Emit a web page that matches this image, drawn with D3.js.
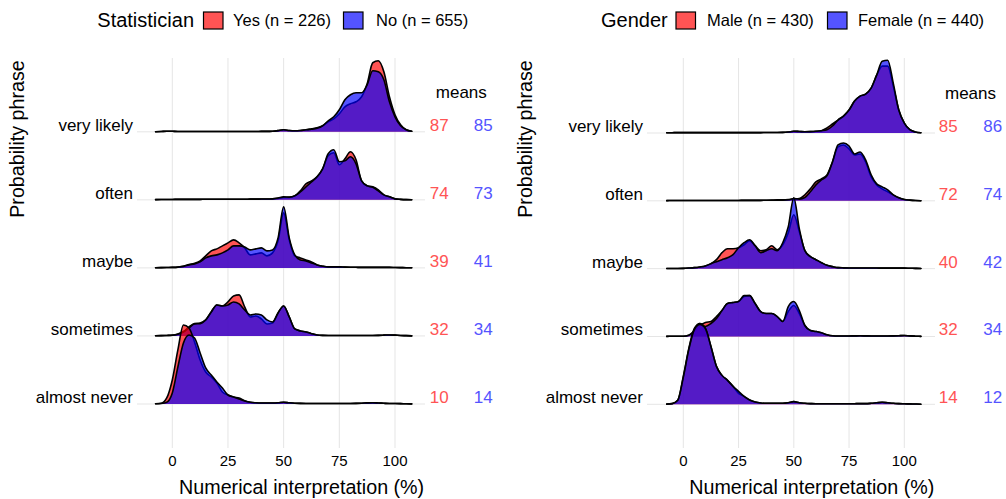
<!DOCTYPE html>
<html><head><meta charset="utf-8">
<script src="https://cdn.jsdelivr.net/npm/d3@7"></script>
<style>body{margin:0;background:#fff} svg{display:block}</style>
</head><body><svg id="chart" width="1006" height="499"></svg>
<script>
// ---------- DATA ----------
const phrases = ["very likely", "often", "maybe", "sometimes", "almost never"];
const xTicks = [0, 25, 50, 75, 100];
// evaluation grid (% values) at which densities were read
const evalGrid = [-7.5,-5,-2.5,0,2.5,5,7.5,10,12.5,15,
  17.5,20,22.5,25,27.5,30,32.5,35,37.5,40,
  42.5,45,47.5,50,52.5,55,57.5,60,62.5,65,
  67.5,70,72.5,75,77.5,80,82.5,85,87.5,90,
  92.5,95,97.5,100,102.5,105,107.5];

const statTitle = "Statistician";
const statLabels = ["Yes (n = 226)", "No (n = 655)"];
const statMeansYes = [87, 74, 39, 32, 10];
const statMeansNo = [85, 73, 41, 34, 14];

const genderTitle = "Gender";
const genderLabels = ["Male (n = 430)", "Female (n = 440)"];
const genderMeansMale = [85, 72, 40, 32, 14];
const genderMeansFemale = [86, 74, 42, 34, 12];

// scaled densities (68 = one row spacing)
const statYesVeryLikely = [0.1,0.3,0.6,0.5,0.3,0.3,0.3,0.3,0.3,0.3, 0.3,0.3,0.3,0.3,0.3,0.3,0.3,0.3,0.3,0.4, 0.4,0.6,1.2,2,1.3,1,1.3,2,3,4, 6,10,13,18,25,28,30,35,48,69, 71,60,35,17,7,2,0.5];
const statNoVeryLikely  = [0.1,0.3,0.6,0.5,0.3,0.3,0.3,0.3,0.3,0.3, 0.3,0.3,0.3,0.3,0.3,0.3,0.3,0.3,0.3,0.4, 0.4,0.6,1.2,2,1.3,1,1.3,2,2.5,3.5, 6,11,15,22,32,37,39,39,47,61, 60,52,30,15,6,2,0.5];
const statYesOften = [0.2,0.3,0.4,0.4,0.5,0.5,0.5,0.5,0.5,0.6, 0.6,0.6,0.6,0.6,0.6,0.6,0.6,0.7,0.7,0.8, 0.8,1,1.5,2.5,2.5,4,9,16,19,23, 31,44,47,35,41,48,40,19,14,13, 10,5,3,1,0.5,0.2,0.1];
const statNoOften  = [0.2,0.3,0.4,0.4,0.5,0.5,0.5,0.5,0.5,0.6, 0.6,0.6,0.6,0.6,0.6,0.6,0.6,0.7,0.7,0.8, 0.8,1,1.8,3,2.7,4,8,13,18,23, 31,46,50,38,39,43,36,19,14,12.5, 9,5,3,1,0.5,0.2,0.1];
const statYesMaybe = [0.2,0.3,0.4,0.5,0.8,1.7,3.3,4.7,7,12, 17,19,22,25,28,25,20,13,14,15, 12,15,27,55,28,12,10,8,6,3, 1.7,1,1,1,0.8,0.7,0.6,0.5,0.5,0.5, 0.5,0.5,0.5,0.4,0.3,0.2,0.1];
const statNoMaybe  = [0.2,0.3,0.4,0.5,0.8,1.5,3,4,6,10, 12,13,15,18,22,22,21,18,19,20, 17,18,30,61,30,13,8,7,5,3, 1.7,1,1,1,0.8,0.7,0.6,0.5,0.5,0.5, 0.5,0.5,0.5,0.4,0.3,0.2,0.1];
const statYesSometimes = [0.2,0.3,0.5,0.8,2,4.5,9,12.5,13,16, 24,31,30,34,40,41,29,19,20,17, 12,13,23,30,19,7,5,4,2.3,1, 0.6,0.5,0.5,0.5,0.5,0.5,0.5,0.5,0.5,0.5, 0.6,0.8,1,0.8,0.5,0.3,0.1];
const statNoSometimes  = [0.2,0.3,0.5,0.7,1.7,4,8,12,12.3,16, 24,31,30,31,34,32,26,21,22,21, 16,14,23,30,19,7,5,4,2.3,1, 0.6,0.5,0.5,0.5,0.5,0.5,0.5,0.5,0.5,0.5, 0.6,0.8,1,0.8,0.5,0.3,0.1];
const statYesAlmostNever = [0.3,0.7,6,24,54,79,76,62,44,32, 27,21,12,9,7,6,3.3,1.7,1.2,1, 1,1,1.2,1.7,1.2,0.8,0.6,0.5,0.5,0.5, 0.5,0.5,0.5,0.5,0.5,0.5,0.6,0.8,1.1,1.3, 1,0.7,0.5,0.5,0.4,0.2,0.1];
const statNoAlmostNever  = [0.2,0.5,1.7,11,37,61,69,66,51,36, 29,22,16,9,7,5,3,1.7,1.2,1, 1,1,1.2,1.7,1.2,0.8,0.6,0.5,0.5,0.5, 0.5,0.5,0.5,0.5,0.5,0.5,0.6,0.8,1.1,1.3, 1,0.7,0.5,0.5,0.4,0.2,0.1];

const maleVeryLikely   = [0.2,0.3,0.4,0.4,0.4,0.4,0.4,0.4,0.4,0.4, 0.4,0.4,0.4,0.4,0.4,0.4,0.4,0.4,0.5,0.5, 0.5,0.6,1,1.7,1.5,1.3,1.4,1.7,2.3,5, 9,13,17,23,32,37,39,45,58,67, 67,47,23,10,3.3,1,0.3];
const femaleVeryLikely = [0.2,0.3,0.4,0.4,0.4,0.4,0.4,0.4,0.4,0.4, 0.4,0.4,0.4,0.4,0.4,0.4,0.4,0.4,0.5,0.5, 0.5,0.6,1,1.7,1.5,1.3,1.4,1.7,2.3,3.3, 7,13,17,23,32,37,39,45,58,72, 73,50,23,10,3.3,1,0.3];
const maleOften   = [0.2,0.3,0.4,0.4,0.4,0.4,0.4,0.4,0.4,0.4, 0.4,0.4,0.4,0.4,0.5,0.5,0.5,0.5,0.6,0.8, 1,1,1.2,1.7,2.3,6,12,19,22,26, 39,54,56,52,46,47,39,24,16,12, 9,6,3,1.3,0.7,0.3,0.1];
const femaleOften = [0.2,0.3,0.4,0.4,0.4,0.4,0.4,0.4,0.4,0.4, 0.4,0.4,0.4,0.4,0.5,0.5,0.5,0.5,0.6,0.6, 0.6,0.6,1,2.3,1.7,3.3,9,16,21,25, 39,56,58,55,47,49,41,26,17,14, 11,6,3,1.3,0.7,0.3,0.1];
const maleMaybe   = [0.1,0.2,0.2,0.3,0.6,1,1.7,2.7,5,9, 16,20,20,21,24,28,23,18,19,23, 19,24,36,54,37,18,12,9,6,3.3, 2,1,0.8,0.7,0.7,0.7,0.6,0.6,0.6,0.5, 0.5,0.5,0.5,0.5,0.4,0.3,0.1];
const femaleMaybe = [0.1,0.2,0.2,0.3,0.6,1,1.7,2.7,5,7, 9,11,14,21,26,29,23,16,18,20, 18,26,42,71,40,18,12,9,6,3.3, 2,1,0.8,0.7,0.7,0.7,0.6,0.6,0.6,0.5, 0.5,0.5,0.5,0.5,0.4,0.3,0.1];
const maleSometimes   = [0.1,0.2,0.3,0.3,1.3,5,11,14,15,20, 26,33,34,35,40,41,33,25,23,23, 20,15,25,31,23,11,6,5,3.7,1.7, 0.7,0.5,0.5,0.5,0.6,0.7,0.6,0.5,0.5,0.5, 0.5,0.6,0.8,1,0.6,0.3,0.1];
const femaleSometimes = [0.1,0.2,0.3,0.3,1.3,6,13,10,13,18, 26,33,34,35,41,41,33,25,23,23, 20,15,30,35,26,11,6,5,3.7,1.7, 0.7,0.5,0.5,0.5,0.6,0.7,0.6,0.5,0.5,0.5, 0.5,0.6,0.8,1,0.6,0.3,0.1];
const maleAlmostNever   = [0.2,0.7,4,28,56,76,81,76,58,38, 29,24,18,11,8,4.3,2.3,1.3,1,1, 1,1,1.5,2.7,1.5,1,0.7,0.5,0.5,0.5, 0.5,0.5,0.5,0.5,0.6,0.7,0.7,1,1.5,2, 1.5,1,0.7,0.5,0.4,0.3,0.1];
const femaleAlmostNever = [0.2,0.7,4,27,55,75,80,76,58,38, 29,24,18,13,8,4.3,2.3,1.3,1,1, 1,1,1.5,2.7,1.5,1,0.7,0.5,0.5,0.5, 0.5,0.5,0.5,0.5,0.6,0.7,0.7,1,1.5,2, 1.5,1,0.7,0.5,0.4,0.3,0.1];

// ---------- DRAW ----------
const FONT = '"Liberation Sans", Arial, Helvetica, sans-serif';
const fills = ["#ff0000", "#0000ff"];
const fillAlpha = 0.67;
const textCols = ["#ff5454", "#5454ff"];
const svg = d3.select("#chart").style("font-family", FONT);

const panels = [
  { title: statTitle, labels: statLabels,
    series: [[statYesVeryLikely, statYesOften, statYesMaybe, statYesSometimes, statYesAlmostNever],
             [statNoVeryLikely, statNoOften, statNoMaybe, statNoSometimes, statNoAlmostNever]],
    means: [statMeansYes, statMeansNo],
    xr: [172.3, 395], yr: [131.8, 404], gl: 137, gr: 425,
    yTitleX: 24, meanX: [439.3, 483.3],
    leg: { t: 97.3, b1: 203.5, l1: 233, b2: 343.5, l2: 376 } },
  { title: genderTitle, labels: genderLabels,
    series: [[maleVeryLikely, maleOften, maleMaybe, maleSometimes, maleAlmostNever],
             [femaleVeryLikely, femaleOften, femaleMaybe, femaleSometimes, femaleAlmostNever]],
    means: [genderMeansMale, genderMeansFemale],
    xr: [683.3, 904.3], yr: [133, 404.3], gl: 647, gr: 935,
    yTitleX: 532.4, meanX: [948.3, 992.7],
    leg: { t: 601, b1: 676, l1: 707, b2: 827.5, l2: 858 } }
];

panels.forEach(p => {
  const x = d3.scaleLinear().domain([0, 100]).range(p.xr);
  const y = d3.scalePoint().domain(phrases).range(p.yr);
  const h = d3.scaleLinear().domain([0, 68]).range([0, y.step()]);
  const g = svg.append("g");

  // grid
  g.selectAll("line.vg").data(xTicks).join("line").attr("class", "vg")
    .attr("x1", d => x(d)).attr("x2", d => x(d)).attr("y1", 58).attr("y2", 448)
    .attr("stroke", "#e5e5e5").attr("stroke-width", 1);
  g.selectAll("line.hg").data(phrases).join("line").attr("class", "hg")
    .attr("x1", p.gl).attr("x2", p.gr).attr("y1", d => y(d)).attr("y2", d => y(d))
    .attr("stroke", "#e5e5e5").attr("stroke-width", 1);

  // ridges
  phrases.forEach((ph, i) => {
    p.series.forEach((ser, s) => {
      const pts = evalGrid.map((v, k) => [v, ser[i][k]]);
      const area = d3.area().x(d => x(d[0])).y0(y(ph)).y1(d => y(ph) - h(d[1])).curve(d3.curveMonotoneX);
      const line = d3.line().x(d => x(d[0])).y(d => y(ph) - h(d[1])).curve(d3.curveMonotoneX);
      g.append("path").attr("d", area(pts)).attr("fill", fills[s]).attr("fill-opacity", fillAlpha);
      g.append("path").attr("d", line(pts)).attr("fill", "none").attr("stroke", "#000")
        .attr("stroke-width", 1.6).attr("stroke-linejoin", "round").attr("stroke-linecap", "round");
    });
  });

  // category labels
  g.selectAll("text.cat").data(phrases).join("text").attr("class", "cat")
    .attr("x", p.gl - 4).attr("y", d => y(d) - 1).attr("text-anchor", "end")
    .attr("font-size", 17).attr("fill", "#000").text(d => d);

  // means
  g.append("text").attr("x", (p.meanX[0] + p.meanX[1]) / 2).attr("y", y(phrases[0]) - 34)
    .attr("text-anchor", "middle").attr("font-size", 17).attr("fill", "#000").text("means");
  p.means.forEach((arr, s) => {
    g.selectAll("text.m" + s).data(phrases).join("text").attr("class", "m" + s)
      .attr("x", p.meanX[s]).attr("y", (d) => y(d) - 1).attr("text-anchor", "middle")
      .attr("font-size", 17).attr("fill", textCols[s]).text((d, k) => arr[k]);
  });

  // x axis ticks & title
  g.selectAll("text.tick").data(xTicks).join("text").attr("class", "tick")
    .attr("x", d => x(d)).attr("y", 466).attr("text-anchor", "middle")
    .attr("font-size", 15).attr("fill", "#000").text(d => d);
  g.append("text").attr("x", (p.xr[0] + p.xr[1]) / 2 + 18).attr("y", 493.5)
    .attr("text-anchor", "middle").attr("font-size", 19.7).attr("fill", "#000")
    .text("Numerical interpretation (%)");

  // y title
  g.append("text").attr("transform", `translate(${p.yTitleX},139) rotate(-90)`)
    .attr("text-anchor", "middle").attr("font-size", 19.7).attr("fill", "#000")
    .text("Probability phrase");

  // legend
  const L = p.leg;
  g.append("text").attr("x", L.t).attr("y", 26.8).attr("font-size", 20).attr("fill", "#000").text(p.title);
  [[L.b1, L.l1], [L.b2, L.l2]].forEach(([bx, lx], s) => {
    g.append("rect").attr("x", bx).attr("y", 12).attr("width", 19.5).attr("height", 17)
      .attr("fill", fills[s]).attr("fill-opacity", fillAlpha).attr("stroke", "#000").attr("stroke-width", 1.2);
    g.append("text").attr("x", lx).attr("y", 26.3).attr("font-size", 16.5).attr("fill", "#000").text(p.labels[s]);
  });
});
</script>
</body></html>
